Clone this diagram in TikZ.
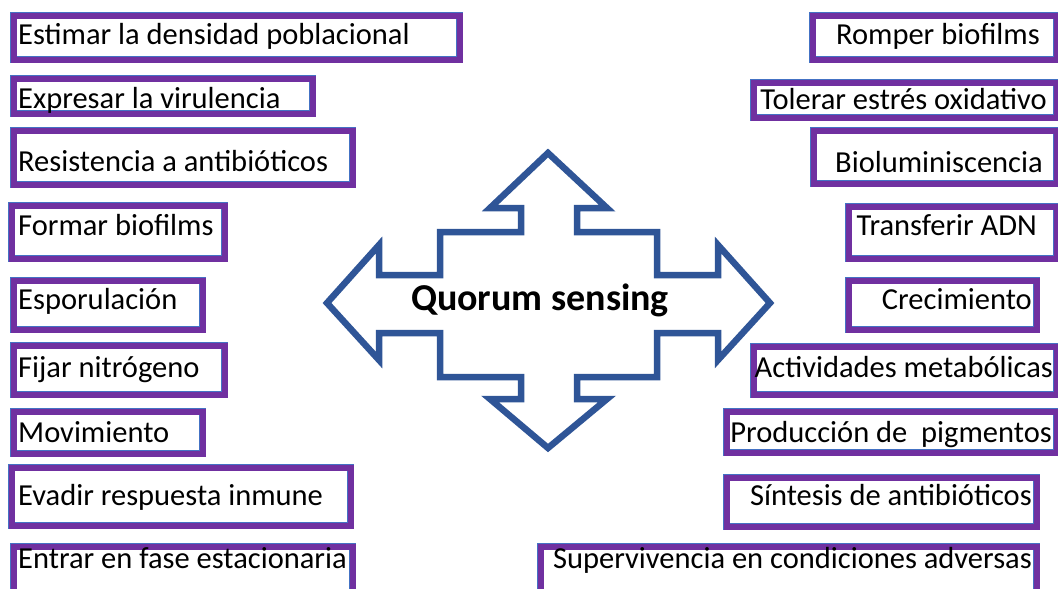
\documentclass[tikz,border=0pt]{standalone}
\usepackage{fontspec}
\setmainfont{Carlito}
\definecolor{qspurple}{HTML}{7030A0}
\definecolor{qsedge}{HTML}{4472C4}
\definecolor{qsblue}{HTML}{2F5597}
\tikzset{
  itembox/.style={draw=qsedge, line width=0.6pt, double=qspurple, double distance=6pt},
  itemtext/.style={font=\fontsize{30.5}{34}\selectfont, inner sep=0pt},
}
\newcommand{\drawitem}[4]{%
\draw[itembox] (#1,#2) rectangle (#3,#4);
}
\newcommand{\leftitem}[3]{%
\node[itemtext, anchor=base west] (#2) at (18,#1) {#3};
}
\newcommand{\rightitem}[4]{%
\node[itemtext, anchor=base east] (#3) at (#1,#2) {#4};
}

\begin{document}
\begin{tikzpicture}[x=1pt,y=-1pt]
\useasboundingbox (0,0) rectangle (1058,589);

% left column
\drawitem{13.5}{15.5}{459.5}{59.5}
\drawitem{13.5}{78.5}{312.5}{113.5}
\drawitem{13.5}{130.5}{352.5}{184.5}
\drawitem{11.5}{205.5}{224.5}{258.5}
\drawitem{13.5}{280.5}{202.5}{329.5}
\drawitem{13.5}{345.5}{224.5}{394.5}
\drawitem{13.5}{411.5}{202.5}{453.5}
\drawitem{11.5}{467.5}{350.5}{525.5}
\drawitem{13.5}{546.5}{352.5}{600}

\leftitem{44}{densidad}{Estimar la densidad poblacional}
\leftitem{108}{virulencia}{Expresar la virulencia}
\leftitem{171}{resistencia}{Resistencia a antibióticos}
\leftitem{235}{formar}{Formar biofilms}
\leftitem{309}{esporulacion}{Esporulación}
\leftitem{377}{nitrogeno}{Fijar nitrógeno}
\leftitem{442}{movimiento}{Movimiento}
\leftitem{505}{inmune}{Evadir respuesta inmune}
\leftitem{568}{estacionaria}{Entrar en fase estacionaria}

% right column
\drawitem{812.5}{15.5}{1056.5}{59.5}
\drawitem{753.5}{82.5}{1056.5}{117.5}
\drawitem{813.5}{130.5}{1056.5}{183.5}
\drawitem{848.5}{206.5}{1056.5}{258.5}
\drawitem{848.5}{280.5}{1036.5}{329.5}
\drawitem{753.5}{346.5}{1056.5}{394.5}
\drawitem{726.5}{411.5}{1056.5}{452.5}
\drawitem{726.5}{477.5}{1036.5}{526.5}
\drawitem{540.5}{546.5}{1036.5}{600}

\rightitem{1040}{44}{romper}{Romper biofilms}
\rightitem{1047}{109}{oxidativo}{Tolerar estrés oxidativo}
\rightitem{1043}{172}{biolum}{Bioluminiscencia}
\rightitem{1037}{235}{adn}{Transferir ADN}
\rightitem{1032}{309}{crecimiento}{Crecimiento}
\rightitem{1053}{377}{metabolicas}{Actividades metabólicas}
\rightitem{1052}{442}{pigmentos}{Producción de~~pigmentos}
\rightitem{1032}{505}{sintesis}{Síntesis de antibióticos}
\rightitem{1032}{568}{adversas}{Supervivencia en condiciones adversas}

% quad arrow
\draw[qsblue, line width=6.5pt, line join=miter, fill=white]
  (548,153) -- (607,208) -- (577,208) -- (577,232) -- (657,232) -- (657,275)
  -- (718,275) -- (718,245) -- (770,303) -- (718,360) -- (718,333)
  -- (657,333) -- (657,377) -- (577,377) -- (577,399) -- (607,399)
  -- (548,448) -- (490,399) -- (521,399) -- (521,377) -- (440,377)
  -- (440,333) -- (379,333) -- (379,360) -- (327,303) -- (379,245)
  -- (379,275) -- (440,275) -- (440,232) -- (521,232) -- (521,208)
  -- (490,208) -- cycle;
\node[font=\bfseries\fontsize{38}{42}\selectfont, inner sep=0pt, anchor=base] (qs) at (540,310) {Quorum sensing};

\end{tikzpicture}
\end{document}
